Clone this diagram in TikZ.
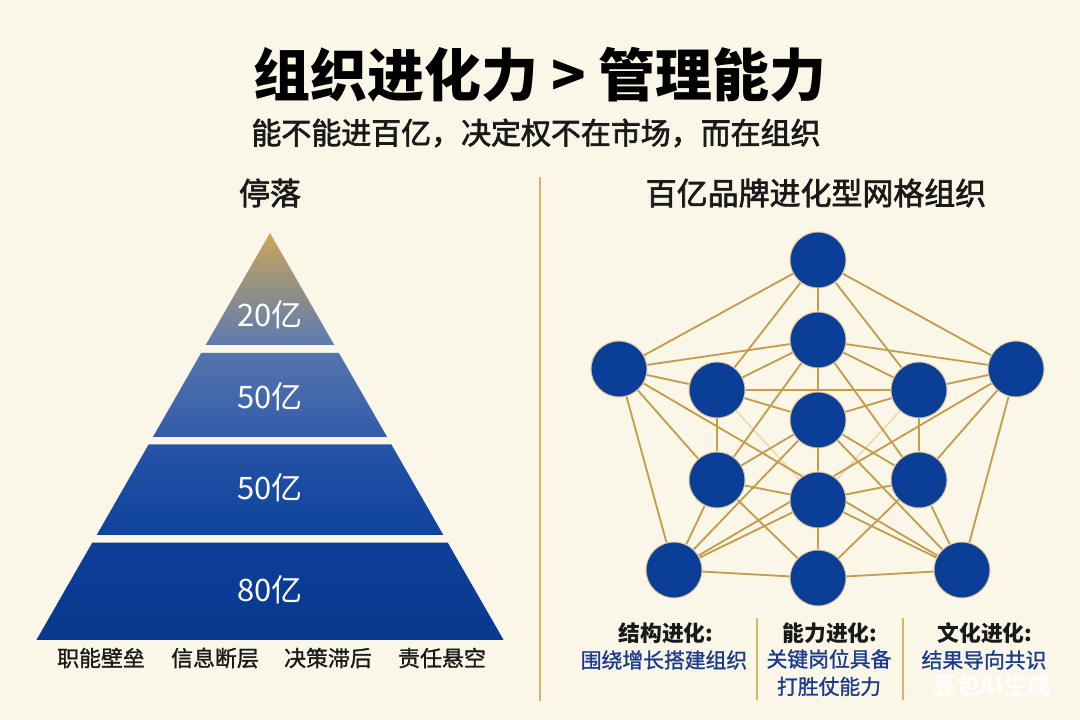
\documentclass[tikz,border=0pt]{standalone}
\usepackage{fontspec}
\setmainfont{Noto Sans CJK SC}
\newfontfamily\medfont{Noto Sans CJK SC}[FakeBold=1.2]
\newfontfamily\semifont{Noto Sans CJK SC}[FakeBold=2.2]
\usetikzlibrary{shadings,backgrounds}
\definecolor{bg}{HTML}{FAF6E8}
\definecolor{gold}{HTML}{C59C4B}
\definecolor{nodeblue}{HTML}{0A3E97}
\definecolor{txtblue}{HTML}{1C3B8C}
\definecolor{paleline}{HTML}{E9DDB6}
\definecolor{divcol}{HTML}{D2B56E}
\definecolor{pgold}{RGB}{203,166,90}
\definecolor{pa}{RGB}{92,122,176}
\definecolor{pb}{RGB}{86,116,172}
\definecolor{pc}{RGB}{50,92,170}
\definecolor{pd}{RGB}{38,84,166}
\definecolor{pe}{RGB}{14,66,156}
\definecolor{pf}{RGB}{12,63,152}
\definecolor{pg}{RGB}{9,57,142}
\begin{document}
\begin{tikzpicture}[x=0.025cm,y=-0.025cm,
  net/.style={circle,fill=nodeblue,draw=gold!55!white,line width=0.7pt,minimum size=1.4cm,inner sep=0pt},
  link/.style={draw=gold,line width=1.3pt},
  faint/.style={draw=paleline,line width=1.2pt},
  lbl/.style={inner sep=0pt,anchor=center},
  titlestyle/.style={lbl,font=\bfseries\fontsize{40.5}{44}\selectfont,text=black},
  substyle/.style={lbl,font=\semifont\fontsize{21.3}{24}\selectfont,text=black!90},
  headstyle/.style={lbl,font=\semifont\fontsize{22}{25}\selectfont,text=black!90},
  tierlabel/.style={lbl,font=\fontsize{22}{25}\selectfont,text=white},
  footstyle/.style={lbl,font=\medfont\fontsize{15.6}{18}\selectfont,text=black!90},
  colhead/.style={lbl,font=\bfseries\fontsize{15.5}{18}\selectfont,text=black!90},
  coltext/.style={lbl,font=\medfont\fontsize{14.8}{19.5}\selectfont,text=txtblue,align=center},
  divider/.style={draw=divcol,line width=0.9pt}
]
\useasboundingbox (0,0) rectangle (1080,720);

% titles
\node[titlestyle] (title) at (540,75) {组织进化力 > 管理能力};
\node[substyle] (sub) at (536,133) {能不能进百亿，决定权不在市场，而在组织};
\node[headstyle] (lefthead) at (270,193) {停落};
\node[headstyle] (righthead) at (816,193) {百亿品牌进化型网格组织};

% main divider
\coordinate (dtop) at (540,177);
\coordinate (dbot) at (540,701);
\draw[divider] (dtop) -- (dbot);

% pyramid
\shade[top color=pgold,bottom color=pa] (270,233) -- (334.3,345) -- (205.7,345) -- cycle;
\shade[top color=pb,bottom color=pc] (201.1,353) -- (338.9,353) -- (387.1,437) -- (152.9,437) -- cycle;
\shade[top color=pd,bottom color=pe] (148.6,444.5) -- (391.4,444.5) -- (443.3,535) -- (96.7,535) -- cycle;
\shade[top color=pf,bottom color=pg] (92.3,542.6) -- (447.7,542.6) -- (503.6,640) -- (36.4,640) -- cycle;
\node[tierlabel] (t1) at (270,315) {20亿};
\node[tierlabel] (t2) at (270,397) {50亿};
\node[tierlabel] (t3) at (270,488) {50亿};
\node[tierlabel] (t4) at (270,590) {80亿};

\node[footstyle] (f1) at (101,658) {职能壁垒};
\node[footstyle] (f2) at (215,658) {信息断层};
\node[footstyle] (f3) at (328,658) {决策滞后};
\node[footstyle] (f4) at (442,658) {责任悬空};

% network nodes
\node[net] (T) at (818,260) {};
\node[net] (A) at (818,340) {};
\node[net] (L) at (619,369) {};
\node[net] (R) at (1016,369) {};
\node[net] (UL) at (717,390) {};
\node[net] (UR) at (919,390) {};
\node[net] (C) at (818,420) {};
\node[net] (LL) at (717,480) {};
\node[net] (LR) at (919,480) {};
\node[net] (D) at (818,500) {};
\node[net] (BL) at (674,570) {};
\node[net] (BR) at (962,570) {};
\node[net] (B) at (818,578) {};

\begin{scope}[on background layer]
  \fill[bg] (0,0) rectangle (1080,720);
  \draw[faint] (UL) -- (D);
  \draw[faint] (UR) -- (D);
  \foreach \a/\b in {T/L,T/R,T/A,T/UL,T/UR,
                     A/L,A/R,A/UL,A/UR,A/C,A/LL,A/LR,
                     L/UL,L/LL,L/BL,L/BR,
                     R/UR,R/LR,R/BR,R/BL,
                     UL/UR,UL/LL,UL/C,
                     UR/LR,UR/C,
                     C/LL,C/LR,C/D,C/BL,C/BR,
                     LL/D,LL/BL,LL/B,
                     LR/D,LR/BR,LR/B,
                     D/B,D/BL,D/BR,
                     BL/B,B/BR}
    \draw[link] (\a) -- (\b);
\end{scope}

% bottom columns
\node[colhead] (h1) at (666,633) {结构进化:};
\node[coltext] (c1) at (664,660) {围绕增长搭建组织};
\coordinate (d1t) at (757,618);
\coordinate (d1b) at (757,700);
\draw[divider] (d1t) -- (d1b);
\node[colhead] (h2) at (830,633) {能力进化:};
\node[coltext,anchor=north] (c2) at (829,649) {关键岗位具备\\打胜仗能力};
\coordinate (d2t) at (903,618);
\coordinate (d2b) at (903,700);
\draw[divider] (d2t) -- (d2b);
\node[colhead] (h3) at (985,633) {文化进化:};
\node[coltext] (c3) at (984,660) {结果导向共识};

\node[lbl,font=\bfseries\fontsize{17}{20}\selectfont,text=white,text opacity=0.85] (wm) at (992,685) {豆包AI生成};
\end{tikzpicture}
\end{document}
